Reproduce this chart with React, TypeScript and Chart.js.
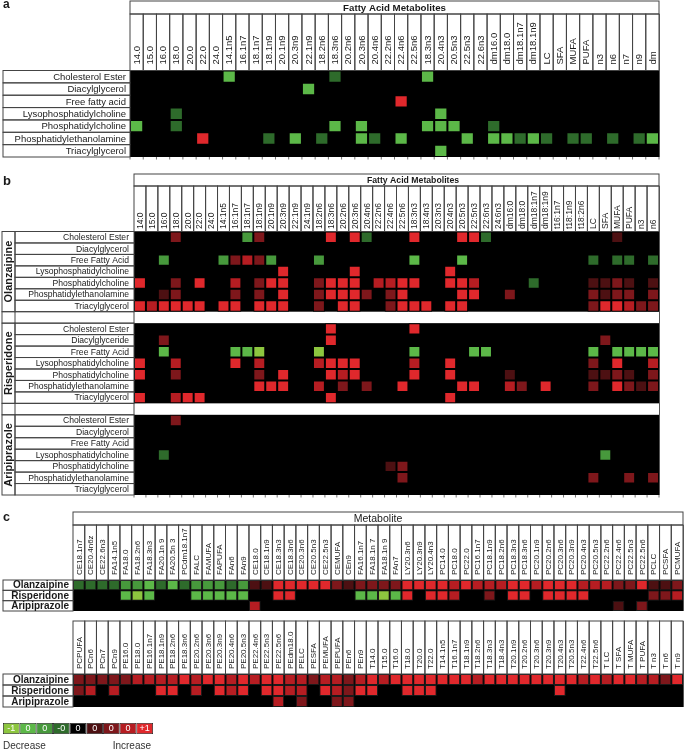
import React, { useEffect, useRef } from 'react';
import { Chart, registerables } from 'chart.js';

Chart.register(...registerables);

const W = 685;
const H = 751;
const FONT = '"Liberation Sans", Arial, Helvetica, sans-serif';
const LINE = '#444';
const TEXT = '#1a1a1a';

// colour scale levels: -4 (strong decrease) ... 0 ... +4 (strong increase)
const levelColors: Record<string, string> = {
  '-4': '#8dc63f', '-3': '#5cb848', '-2': '#47993c', '-1': '#2e6b2b',
  '0': '#000000', '1': '#4d1012', '2': '#7e171b', '3': '#b61d22', '4': '#e0282c',
};

// ---------------- Panel a ----------------
const aColumns = ['14.0', '15.0', '16.0', '18.0', '20.0', '22.0', '24.0', '14.1n5', '16.1n7', '18.1n7', '18.1n9', '20.1n9', '20.3n9', '22.1n9', '18.2n6', '18.3n6', '20.2n6', '20.3n6', '20.4n6', '22.2n6', '22.4n6', '22.5n6', '18.3n3', '20.4n3', '20.5n3', '22.5n3', '22.6n3', 'dm16.0', 'dm18.0', 'dm18.1n7', 'dm18.1n9', 'LC', 'SFA', 'MUFA', 'PUFA', 'n3', 'n6', 'n7', 'n9', 'dm'];
const aRows = ['Cholesterol Ester', 'Diacylglycerol', 'Free fatty acid', 'Lysophosphatidylcholine', 'Phosphatidylcholine', 'Phosphatidylethanolamine', 'Triacylglycerol'];
const aCholesterolEster = [0, 0, 0, 0, 0, 0, 0, -3, 0, 0, 0, 0, 0, 0, 0, -1, 0, 0, 0, 0, 0, 0, -3, 0, 0, 0, 0, 0, 0, 0, 0, 0, 0, 0, 0, 0, 0, 0, 0, 0];
const aDiacylglycerol = [0, 0, 0, 0, 0, 0, 0, 0, 0, 0, 0, 0, 0, -3, 0, 0, 0, 0, 0, 0, 0, 0, 0, 0, 0, 0, 0, 0, 0, 0, 0, 0, 0, 0, 0, 0, 0, 0, 0, 0];
const aFreeFattyAcid = [0, 0, 0, 0, 0, 0, 0, 0, 0, 0, 0, 0, 0, 0, 0, 0, 0, 0, 0, 0, 4, 0, 0, 0, 0, 0, 0, 0, 0, 0, 0, 0, 0, 0, 0, 0, 0, 0, 0, 0];
const aLysoPC = [0, 0, 0, -1, 0, 0, 0, 0, 0, 0, 0, 0, 0, 0, 0, 0, 0, 0, 0, 0, 0, 0, 0, -3, 0, 0, 0, 0, 0, 0, 0, 0, 0, 0, 0, 0, 0, 0, 0, 0];
const aPC = [-3, 0, 0, -1, 0, 0, 0, 0, 0, 0, 0, 0, 0, 0, 0, -3, 0, -3, 0, 0, 0, 0, -3, -3, -3, 0, 0, -1, 0, 0, 0, 0, 0, 0, 0, 0, 0, 0, 0, 0];
const aPE = [0, 0, 0, 0, 0, 4, 0, 0, 0, 0, -1, 0, -3, 0, -1, 0, 0, -3, -1, 0, -3, 0, 0, 0, 0, -3, 0, -3, -3, -1, -3, -1, 0, -1, -1, 0, -1, 0, -1, -3];
const aTriacylglycerol = [0, 0, 0, 0, 0, 0, 0, 0, 0, 0, 0, 0, 0, 0, 0, 0, 0, 0, 0, 0, 0, 0, 0, -3, 0, 0, 0, 0, 0, 0, 0, 0, 0, 0, 0, 0, 0, 0, 0, 0];

// ---------------- Panel b ----------------
const bColumns = ['14:0', '15:0', '16:0', '18:0', '20:0', '22:0', '24:0', '14:1n5', '16:1n7', '18:1n7', '18:1n9', '20:1n9', '20:3n9', '22:1n9', '24:1n9', '18:2n6', '18:3n6', '20:2n6', '20:3n6', '20:4n6', '22:2n6', '22:4n6', '22:5n6', '18:3n3', '18:4n3', '20:3n3', '20:4n3', '20:5n3', '22:5n3', '22:6n3', '24:6n3', 'dm16:0', 'dm18:0', 'dm18:1n7', 'dm18:1n9', 't16:1n7', 't18:1n9', 't18:2n6', 'LC', 'SFA', 'MUFA', 'PUFA', 'n3', 'n6'];
const bRowsOlanzapine = ['Cholesterol Ester', 'Diacylglycerol', 'Free Fatty Acid', 'Lysophosphatidylcholine', 'Phosphatidylcholine', 'Phosphatidylethanolamine', 'Triacylglycerol'];
const bRowsRisperidone = ['Cholesterol Ester', 'Diacylglyceride', 'Free Fatty Acid', 'Lysophosphatidylcholine', 'Phosphatidylcholine', 'Phosphatidylethanolamine', 'Triacylglycerol'];
const bRowsAripiprazole = ['Cholesterol Ester', 'Diacylglycerol', 'Free Fatty Acid', 'Lysophosphatidylcholine', 'Phosphatidylcholine', 'Phosphatidylethanolamine', 'Triacylglycerol'];

const olzCE = [0, 0, 0, 2, 0, 0, 0, 0, 0, -2, 2, 0, 0, 0, 0, 0, 4, 0, 4, -1, 0, 0, 0, 4, 0, 0, 0, 4, 4, -1, 0, 0, 0, 0, 0, 0, 0, 0, 0, 0, 1, 0, 0, 0];
const olzDAG = [0, 0, 0, 0, 0, 0, 0, 0, 0, 0, 0, 0, 0, 0, 0, 0, 0, 0, 0, 0, 0, 0, 0, 0, 0, 0, 0, 0, 0, 0, 0, 0, 0, 0, 0, 0, 0, 0, 0, 0, 0, 0, 0, 0];
const olzFFA = [0, 0, -2, 0, 0, 0, 0, -2, 2, 3, 2, -2, 0, 0, 0, -2, 0, 0, 0, 0, 0, 0, 0, -3, 0, 0, 0, -3, 0, 0, 0, 0, 0, 0, 0, 0, 0, 0, -1, 0, -1, -1, 0, -1];
const olzLPC = [0, 0, 0, 0, 0, 0, 0, 0, 0, 0, 0, 0, 4, 0, 0, 0, 0, 0, 4, 0, 0, 0, 0, 0, 0, 0, 4, 0, 0, 0, 0, 0, 0, 0, 0, 0, 0, 0, 0, 0, 0, 0, 0, 0];
const olzPC = [4, 0, 0, 2, 0, 4, 0, 0, 3, 0, 2, 4, 4, 0, 0, 2, 4, 4, 4, 0, 3, 3, 4, 4, 0, 0, 4, 4, 3, 0, 0, 0, 0, -1, 0, 0, 0, 0, 1, 1, 2, 1, 0, 1];
const olzPE = [0, 0, 1, 2, 0, 0, 0, 0, 2, 0, 2, 0, 4, 0, 0, 2, 4, 4, 4, 2, 0, 2, 4, 0, 0, 0, 0, 4, 4, 0, 0, 2, 0, 0, 0, 0, 0, 0, 2, 1, 2, 2, 0, 2];
const olzTAG = [4, 3, 4, 4, 4, 4, 0, 4, 4, 0, 4, 4, 4, 0, 0, 2, 0, 4, 4, 0, 0, 2, 4, 4, 4, 0, 4, 4, 0, 0, 0, 0, 0, 0, 0, 0, 0, 0, 2, 4, 4, 3, 2, 2];

const risCE = [0, 0, 0, 0, 0, 0, 0, 0, 0, 0, 0, 0, 0, 0, 0, 0, 4, 0, 0, 0, 0, 0, 0, 4, 0, 0, 0, 0, 0, 0, 0, 0, 0, 0, 0, 0, 0, 0, 0, 0, 0, 0, 0, 0];
const risDAG = [0, 0, 2, 0, 0, 0, 0, 0, 0, 0, 0, 0, 0, 0, 0, 0, 4, 0, 0, 0, 0, 0, 0, 0, 0, 0, 0, 0, 0, 0, 0, 0, 0, 0, 0, 0, 0, 0, 0, 2, 0, 0, 0, 0];
const risFFA = [0, 0, -3, 0, 0, 0, 0, 0, -3, -3, -4, 0, 0, 0, 0, -4, 0, 0, 0, 0, 0, 0, 0, -3, 0, 0, 0, 0, -3, -3, 0, 0, 0, 0, 0, 0, 0, 0, -3, 0, -3, -3, -3, -3];
const risLPC = [4, 0, 0, 3, 0, 0, 0, 0, 4, 0, 3, 0, 0, 0, 0, 3, 4, 4, 4, 0, 0, 0, 0, 3, 0, 0, 4, 0, 0, 0, 0, 0, 0, 0, 0, 0, 0, 0, 2, 0, 4, 0, 0, 3];
const risPC = [4, 0, 0, 2, 0, 0, 0, 0, 0, 0, 2, 0, 4, 0, 0, 0, 4, 3, 4, 0, 0, 0, 0, 4, 0, 0, 4, 0, 0, 0, 0, 1, 0, 0, 0, 0, 0, 0, 1, 1, 2, 1, 0, 2];
const risPE = [0, 0, 0, 0, 0, 0, 0, 0, 0, 0, 4, 4, 4, 0, 0, 3, 0, 2, 0, 2, 0, 0, 4, 0, 0, 0, 0, 4, 4, 0, 0, 3, 2, 0, 4, 0, 0, 0, 2, 0, 4, 2, 1, 2];
const risTAG = [4, 0, 0, 3, 4, 4, 0, 0, 0, 0, 0, 0, 0, 0, 0, 0, 4, 0, 0, 0, 0, 0, 0, 0, 0, 0, 4, 0, 0, 0, 0, 0, 0, 0, 0, 0, 0, 0, 0, 0, 0, 0, 0, 0];

const ariCE = [0, 0, 0, 2, 0, 0, 0, 0, 0, 0, 0, 0, 0, 0, 0, 0, 0, 0, 0, 0, 0, 0, 0, 0, 0, 0, 0, 0, 0, 0, 0, 0, 0, 0, 0, 0, 0, 0, 0, 0, 0, 0, 0, 0];
const ariDAG = [0, 0, 0, 0, 0, 0, 0, 0, 0, 0, 0, 0, 0, 0, 0, 0, 0, 0, 0, 0, 0, 0, 0, 0, 0, 0, 0, 0, 0, 0, 0, 0, 0, 0, 0, 0, 0, 0, 0, 0, 0, 0, 0, 0];
const ariFFA = [0, 0, 0, 0, 0, 0, 0, 0, 0, 0, 0, 0, 0, 0, 0, 0, 0, 0, 0, 0, 0, 0, 0, 0, 0, 0, 0, 0, 0, 0, 0, 0, 0, 0, 0, 0, 0, 0, 0, 0, 0, 0, 0, 0];
const ariLPC = [0, 0, -1, 0, 0, 0, 0, 0, 0, 0, 0, 0, 0, 0, 0, 0, 0, 0, 0, 0, 0, 0, 0, 0, 0, 0, 0, 0, 0, 0, 0, 0, 0, 0, 0, 0, 0, 0, 0, -2, 0, 0, 0, 0];
const ariPC = [0, 0, 0, 0, 0, 0, 0, 0, 0, 0, 0, 0, 0, 0, 0, 0, 0, 0, 0, 0, 0, 1, 2, 0, 0, 0, 0, 0, 0, 0, 0, 0, 0, 0, 0, 0, 0, 0, 0, 0, 0, 0, 0, 0];
const ariPE = [0, 0, 0, 0, 0, 0, 0, 0, 0, 0, 0, 0, 0, 0, 0, 0, 0, 0, 0, 0, 0, 0, 2, 0, 0, 0, 0, 0, 0, 0, 0, 0, 0, 0, 0, 0, 0, 0, 2, 0, 0, 2, 0, 2];
const ariTAG = [0, 0, 0, 0, 0, 0, 0, 0, 0, 0, 0, 0, 0, 0, 0, 0, 0, 0, 0, 0, 0, 0, 0, 0, 0, 0, 0, 0, 0, 0, 0, 0, 0, 0, 0, 0, 0, 0, 0, 0, 0, 0, 0, 0];

// ---------------- Panel c ----------------
const cDrugs = ['Olanzaipine', 'Risperidone', 'Aripiprazole'];
const c1Columns = ['CE18.1n7', 'CE20.4n6z', 'CE22.6n3', 'FA14.1n5', 'FA18.0', 'FA18.2n6', 'FA18.3n3', 'FA20.1n 9', 'FA20.5n 3', 'PCdm18.1n7', 'FALC', 'FAMUFA', 'FAPUFA', 'FAn6', 'FAn9', 'CE18.0', 'CE18.1n9', 'CE18.3n3', 'CE18.3n6', 'CE20.3n6', 'CE20.5n3', 'CE22.5n3', 'CEMUFA', 'CEn9', 'FA16.1n7', 'FA18.1n 7', 'FA18.1n 9', 'FAn7', 'LY20.3n6', 'LY20.3n9', 'LY20.4n3', 'PC14.0', 'PC18.0', 'PC22.0', 'PC16.1n7', 'PC18.1n9', 'PC18.2n6', 'PC18.3n3', 'PC18.3n6', 'PC20.1n9', 'PC20.2n6', 'PC20.3n6', 'PC20.3n9', 'PC20.4n3', 'PC20.5n3', 'PC22.2n6', 'PC22.4n6', 'PC22.5n3', 'PC22.5n6', 'PCLC', 'PCSFA', 'PCMUFA'];
const c1Olanzapine = [-1, -1, -1, -1, -2, -2, -3, -1, -3, -1, -2, -2, -2, -1, -2, 1, 1, 4, 4, 4, 4, 4, 2, 1, 2, 2, 2, 2, 4, 4, 4, 4, 3, 4, 3, 3, 3, 4, 4, 3, 4, 4, 4, 3, 3, 3, 2, 2, 4, 1, 1, 2];
const c1Risperidone = [0, 0, 0, 0, -3, -4, -3, 0, 0, 0, -3, -3, -3, -3, -3, 0, 0, 4, 4, 0, 0, 0, 0, 0, -3, -3, -4, -3, 4, 0, 4, 4, 3, 0, 0, 2, 0, 4, 4, 0, 4, 4, 4, 4, 0, 0, 0, 0, 0, 2, 2, 3];
const c1Aripiprazole = [0, 0, 0, 0, 0, 0, 0, 0, 0, 0, 0, 0, 0, 0, 0, 3, 0, 0, 0, 0, 0, 0, 0, 0, 0, 0, 0, 0, 0, 0, 0, 0, 0, 0, 0, 0, 0, 0, 0, 0, 0, 0, 0, 0, 0, 0, 1, 0, 2, 0, 0, 0];

const c2Columns = ['PCPUFA', 'PCn6', 'PCn7', 'PCn9', 'PE16.0', 'PE18.0', 'PE16.1n7', 'PE18.1n9', 'PE18.2n6', 'PE18.3n6', 'PE20.2n6', 'PE20.3n6', 'PE20.3n9', 'PE20.4n6', 'PE20.5n3', 'PE22.4n6', 'PE22.5n3', 'PE22.5n6', 'PEdm18.0', 'PELC', 'PESFA', 'PEMUFA', 'PEPUFA', 'PEn6', 'PEn9', 'T14.0', 'T15.0', 'T16.0', 'T18.0', 'T20.0', 'T22.0', 'T14.1n5', 'T16.1n7', 'T18.1n9', 'T18.2n6', 'T18.3n3', 'T18.4n3', 'T20.1n9', 'T20.2n6', 'T20.3n6', 'T20.3n9', 'T20.4n3', 'T20.5n3', 'T22.4n6', 'T22.5n6', 'T LC', 'T SFA', 'T MUFA', 'T PUFA', 'T n3', 'T n6', 'T n9'];
const c2Olanzapine = [2, 2, 2, 2, 2, 3, 3, 3, 3, 4, 3, 4, 4, 3, 4, 3, 4, 4, 3, 3, 2, 3, 3, 2, 3, 4, 3, 4, 4, 4, 4, 4, 4, 4, 3, 4, 4, 4, 4, 4, 4, 4, 4, 3, 4, 3, 4, 4, 3, 3, 2, 4];
const c2Risperidone = [2, 3, 0, 3, 0, 0, 0, 4, 4, 0, 3, 0, 4, 3, 4, 0, 4, 4, 3, 3, 0, 4, 3, 2, 4, 4, 0, 0, 4, 4, 4, 0, 0, 0, 0, 0, 0, 0, 0, 0, 0, 4, 0, 0, 0, 0, 0, 0, 0, 0, 0, 0];
const c2Aripiprazole = [0, 0, 0, 0, 0, 0, 0, 0, 0, 0, 0, 0, 0, 0, 0, 0, 0, 3, 0, 2, 0, 0, 2, 2, 0, 0, 0, 0, 0, 0, 0, 0, 0, 0, 0, 0, 0, 0, 0, 0, 0, 0, 0, 0, 0, 0, 0, 0, 0, 0, 0, 0];

// ---------------- Legend ----------------
const legendLevels = [-4, -3, -2, -1, 0, 1, 2, 3, 4];
const legendTicks = ['-1', '0', '0', '-0', '0', '0', '0', '0', '+1'];

type Block = { group?: string; rows: string[]; values: number[][] };
type HeatSpec = {
  letter?: { text: string; x: number; y: number; size: number };
  title?: string; titleBold?: boolean; titleSize?: number; titleX?: number; titleTop?: number;
  headerTop: number;
  columns: string[]; colSize: number; colPad: number;
  left: number; top: number; right: number; bottom: number;
  labelLeft: number; groupLeft?: number; groupSize?: number;
  rowSize: number; rowBold: boolean; rowPad: number;
  blocks: Block[];
  cellBorder: string;
  bottomTicks: boolean;
};

function heatmapConfig(spec: HeatSpec): any {
  const datasets: any[] = [];
  const rowInfo: { r: number; label: string }[] = [];
  const ranges: { start: number; end: number; group?: string }[] = [];
  const gaps: number[] = [];
  let r = 0;
  spec.blocks.forEach((block, bi) => {
    if (bi > 0) { gaps.push(r); r += 1; }
    const start = r;
    block.rows.forEach((label, i) => {
      const row = r;
      const vals = block.values[i];
      datasets.push({
        label: (block.group ? block.group + ' - ' : '') + label,
        data: vals.map((v) => (v === 0 ? null : [row, row + 1])),
        backgroundColor: vals.map((v) => levelColors[String(v)]),
        borderColor: spec.cellBorder,
        borderWidth: 1,
        borderSkipped: false,
        inflateAmount: 0,
        grouped: false,
        barPercentage: 1,
        categoryPercentage: 1,
      });
      rowInfo.push({ r: row, label });
      r += 1;
    });
    ranges.push({ start, end: r, group: block.group });
  });
  const nRows = r;

  const decor = {
    id: 'decor',
    beforeDatasetsDraw(chart: any) {
      const { ctx, chartArea: ca, scales } = chart;
      const ys = scales.y;
      ctx.save();
      ctx.fillStyle = '#000';
      ranges.forEach((g) => {
        const y0 = ys.getPixelForValue(g.start);
        const y1 = ys.getPixelForValue(g.end);
        ctx.fillRect(ca.left, y0, ca.right - ca.left, y1 - y0);
      });
      ctx.restore();
    },
    afterDraw(chart: any) {
      const { ctx, chartArea: ca, scales } = chart;
      const xs = scales.x;
      const ys = scales.y;
      const n = spec.columns.length;
      const cw = (ca.right - ca.left) / n;
      ctx.save();
      ctx.lineWidth = 1;
      ctx.strokeStyle = LINE;
      ctx.fillStyle = TEXT;
      if (spec.letter) {
        ctx.font = `bold ${spec.letter.size}px ${FONT}`;
        ctx.textAlign = 'left';
        ctx.textBaseline = 'alphabetic';
        ctx.fillText(spec.letter.text, spec.letter.x, spec.letter.y);
      }
      if (spec.title && spec.titleTop != null) {
        ctx.strokeRect(ca.left, spec.titleTop, ca.right - ca.left, spec.headerTop - spec.titleTop);
        ctx.font = `${spec.titleBold ? 'bold ' : ''}${spec.titleSize}px ${FONT}`;
        ctx.textAlign = 'center';
        ctx.textBaseline = 'middle';
        ctx.fillText(spec.title, spec.titleX ?? (ca.left + ca.right) / 2, (spec.titleTop + spec.headerTop) / 2 + 0.5);
      }
      ctx.font = `${spec.colSize}px ${FONT}`;
      spec.columns.forEach((c, i) => {
        const cx = xs.getPixelForValue(i);
        ctx.strokeRect(cx - cw / 2, spec.headerTop, cw, ca.top - spec.headerTop);
        ctx.save();
        ctx.translate(cx, ca.top - spec.colPad);
        ctx.rotate(-Math.PI / 2);
        ctx.textAlign = 'left';
        ctx.textBaseline = 'middle';
        ctx.fillText(c, 0, 0.5);
        ctx.restore();
      });
      ctx.font = `${spec.rowBold ? 'bold ' : ''}${spec.rowSize}px ${FONT}`;
      ctx.textAlign = 'right';
      ctx.textBaseline = 'middle';
      rowInfo.forEach(({ r: rr, label }) => {
        const y0 = ys.getPixelForValue(rr);
        const y1 = ys.getPixelForValue(rr + 1);
        ctx.strokeRect(spec.labelLeft, y0, ca.left - spec.labelLeft, y1 - y0);
        ctx.fillText(label, ca.left - spec.rowPad, (y0 + y1) / 2 + 0.5);
      });
      const gl = spec.groupLeft ?? spec.labelLeft;
      gaps.forEach((g) => {
        const y0 = ys.getPixelForValue(g);
        const y1 = ys.getPixelForValue(g + 1);
        ctx.strokeRect(gl, y0, ca.left - gl, y1 - y0);
        if (spec.groupLeft != null) {
          ctx.beginPath();
          ctx.moveTo(spec.labelLeft, y0);
          ctx.lineTo(spec.labelLeft, y1);
          ctx.stroke();
        }
      });
      if (spec.groupLeft != null) {
        ctx.font = `bold ${spec.groupSize}px ${FONT}`;
        ranges.forEach((g) => {
          const y0 = ys.getPixelForValue(g.start);
          const y1 = ys.getPixelForValue(g.end);
          ctx.strokeRect(spec.groupLeft!, y0, spec.labelLeft - spec.groupLeft!, y1 - y0);
          ctx.save();
          ctx.translate((spec.groupLeft! + spec.labelLeft) / 2 + 0.5, (y0 + y1) / 2);
          ctx.rotate(-Math.PI / 2);
          ctx.textAlign = 'center';
          ctx.textBaseline = 'middle';
          ctx.fillText(g.group || '', 0, 0);
          ctx.restore();
        });
      }
      ctx.strokeStyle = '#555';
      ctx.beginPath();
      ctx.moveTo(ca.right + 0.5, spec.headerTop);
      ctx.lineTo(ca.right + 0.5, ca.bottom);
      ctx.stroke();
      if (spec.bottomTicks) {
        ctx.strokeStyle = '#777';
        ctx.beginPath();
        for (let i = 0; i <= n; i++) {
          const x = ca.left + i * cw;
          ctx.moveTo(x, ca.bottom);
          ctx.lineTo(x, ca.bottom + 2.5);
        }
        ctx.stroke();
      }
      ctx.restore();
    },
  };

  return {
    type: 'bar',
    data: { labels: spec.columns, datasets },
    options: {
      animation: false,
      responsive: false,
      devicePixelRatio: 1,
      layout: { padding: { left: spec.left, top: spec.top, right: W - spec.right, bottom: H - spec.bottom } },
      plugins: { legend: { display: false }, tooltip: { enabled: false }, title: { display: false } },
      scales: {
        x: { type: 'category', display: false, offset: true },
        y: { type: 'linear', display: false, min: 0, max: nRows, reverse: true },
      },
    },
    plugins: [decor],
  };
}

function legendConfig(): any {
  const decor = {
    id: 'legendDecor',
    afterDraw(chart: any) {
      const { ctx, chartArea: ca, scales } = chart;
      const xs = scales.x;
      ctx.save();
      ctx.fillStyle = '#fff';
      ctx.font = `9px ${FONT}`;
      ctx.textAlign = 'center';
      ctx.textBaseline = 'middle';
      legendTicks.forEach((t, i) => {
        ctx.fillText(t, xs.getPixelForValue(i), (ca.top + ca.bottom) / 2 + 0.5);
      });
      ctx.fillStyle = '#333';
      ctx.font = `10px ${FONT}`;
      ctx.textBaseline = 'alphabetic';
      ctx.textAlign = 'left';
      ctx.fillText('Decrease', ca.left, 749);
      ctx.textAlign = 'right';
      ctx.fillText('Increase', ca.right - 2, 749);
      ctx.restore();
    },
  };
  return {
    type: 'bar',
    data: {
      labels: legendTicks,
      datasets: [{
        label: 'scale',
        data: legendLevels.map(() => [0, 1]),
        backgroundColor: legendLevels.map((v) => levelColors[String(v)]),
        borderColor: '#222',
        borderWidth: 0.8,
        borderSkipped: false,
        inflateAmount: 0,
        barPercentage: 1,
        categoryPercentage: 1,
      }],
    },
    options: {
      animation: false,
      responsive: false,
      devicePixelRatio: 1,
      layout: { padding: { left: 3, top: 723, right: W - 153, bottom: H - 734 } },
      plugins: { legend: { display: false }, tooltip: { enabled: false } },
      scales: {
        x: { type: 'category', display: false, offset: true },
        y: { type: 'linear', display: false, min: 0, max: 1 },
      },
    },
    plugins: [decor],
  };
}

const panelA: HeatSpec = {
  letter: { text: 'a', x: 3, y: 8, size: 12 },
  title: 'Fatty Acid Metabolites', titleBold: true, titleSize: 9.7, titleTop: 1,
  headerTop: 14, columns: aColumns, colSize: 9.5, colPad: 6,
  left: 130, top: 70.5, right: 659, bottom: 157,
  labelLeft: 3, rowSize: 9.5, rowBold: false, rowPad: 4,
  blocks: [{ rows: aRows, values: [aCholesterolEster, aDiacylglycerol, aFreeFattyAcid, aLysoPC, aPC, aPE, aTriacylglycerol] }],
  cellBorder: '#000', bottomTicks: true,
};

const panelB: HeatSpec = {
  letter: { text: 'b', x: 3, y: 185, size: 13 },
  title: 'Fatty Acid Metabolites', titleBold: true, titleSize: 8.7, titleX: 413, titleTop: 174,
  headerTop: 186, columns: bColumns, colSize: 8.5, colPad: 2.5,
  left: 134, top: 231.5, right: 659, bottom: 495,
  labelLeft: 15, groupLeft: 2, groupSize: 11, rowSize: 8.6, rowBold: false, rowPad: 5,
  blocks: [
    { group: 'Olanzaipine', rows: bRowsOlanzapine, values: [olzCE, olzDAG, olzFFA, olzLPC, olzPC, olzPE, olzTAG] },
    { group: 'Risperidone', rows: bRowsRisperidone, values: [risCE, risDAG, risFFA, risLPC, risPC, risPE, risTAG] },
    { group: 'Aripiprazole', rows: bRowsAripiprazole, values: [ariCE, ariDAG, ariFFA, ariLPC, ariPC, ariPE, ariTAG] },
  ],
  cellBorder: '#000', bottomTicks: true,
};

const panelC1: HeatSpec = {
  letter: { text: 'c', x: 3, y: 521, size: 12.5 },
  title: 'Metabolite', titleBold: false, titleSize: 10.5, titleTop: 512,
  headerTop: 525, columns: c1Columns, colSize: 8, colPad: 5,
  left: 73, top: 580, right: 683, bottom: 611,
  labelLeft: 3, rowSize: 10, rowBold: true, rowPad: 4,
  blocks: [{ rows: cDrugs, values: [c1Olanzapine, c1Risperidone, c1Aripiprazole] }],
  cellBorder: '#1a1a1a', bottomTicks: false,
};

const panelC2: HeatSpec = {
  headerTop: 621, columns: c2Columns, colSize: 8, colPad: 5,
  left: 73, top: 674, right: 683, bottom: 707,
  labelLeft: 3, rowSize: 10, rowBold: true, rowPad: 4,
  blocks: [{ rows: cDrugs, values: [c2Olanzapine, c2Risperidone, c2Aripiprazole] }],
  cellBorder: '#1a1a1a', bottomTicks: false,
};

export default function App() {
  const r0 = useRef<HTMLCanvasElement>(null);
  const r1 = useRef<HTMLCanvasElement>(null);
  const r2 = useRef<HTMLCanvasElement>(null);
  const r3 = useRef<HTMLCanvasElement>(null);
  const r4 = useRef<HTMLCanvasElement>(null);
  const refs = [r0, r1, r2, r3, r4];

  useEffect(() => {
    const configs = [
      heatmapConfig(panelA),
      heatmapConfig(panelB),
      heatmapConfig(panelC1),
      heatmapConfig(panelC2),
      legendConfig(),
    ];
    const charts = configs.map((cfg, i) => new Chart(refs[i].current as HTMLCanvasElement, cfg));
    return () => charts.forEach((c) => c.destroy());
  }, []);

  return (
    <div style={{ position: 'absolute', left: 0, top: 0, width: W, height: H, background: '#fff', overflow: 'hidden' }}>
      {refs.map((r, i) => (
        <canvas key={i} ref={r} width={W} height={H}
          style={{ position: 'absolute', left: 0, top: 0, width: W, height: H }} />
      ))}
    </div>
  );
}
